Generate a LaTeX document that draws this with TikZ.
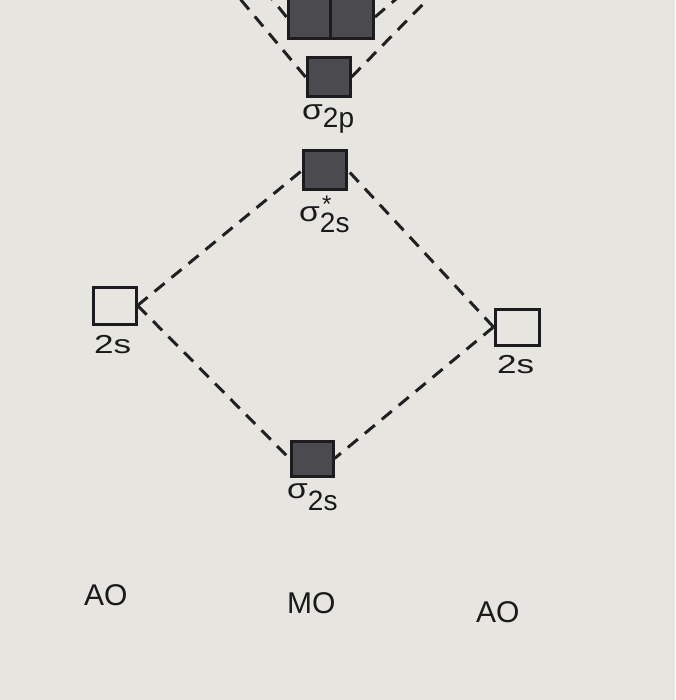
\documentclass[tikz,border=0pt]{standalone}
\usepackage{fontspec}
\setmainfont{Liberation Sans}
\newfontfamily\widefont[FakeStretch=1.35]{Liberation Sans}
\newfontfamily\sigfont[FakeStretch=1.2]{Liberation Sans}
\definecolor{bg}{HTML}{E7E5E0}
\definecolor{boxfill}{HTML}{4A4A4F}
\definecolor{boxedge}{HTML}{1C1C20}
\definecolor{lineclr}{HTML}{202022}
\definecolor{textclr}{HTML}{1A1A1C}
\newcommand{\sigmalbl}[2]{{\sigfont\fontsize{28}{32}\selectfont σ}\raisebox{-#1pt}{\fontsize{28}{32}\selectfont #2}}
\begin{document}
\begin{tikzpicture}[x=1pt,y=-1pt,
  mobox/.style={rectangle, draw=boxedge, fill=boxfill, line width=3pt, inner sep=0pt, minimum width=43pt, minimum height=39pt},
  aobox/.style={rectangle, draw=boxedge, fill=none, line width=3pt, inner sep=0pt, minimum width=43pt, minimum height=37pt},
  conn/.style={draw=lineclr, line width=3pt, dash pattern=on 13pt off 9pt},
  lbl/.style={text=textclr, inner sep=0pt, anchor=base west},
  twos/.style={lbl, font=\widefont\fontsize{26}{30}\selectfont},
  axlbl/.style={lbl, font=\fontsize{30}{34}\selectfont}]
\fill[bg] (0,0) rectangle (675,700);
\useasboundingbox (0,0) rectangle (675,700);
% coordinates outside the frame
\coordinate (tl1) at (268,-6);
\coordinate (tr1) at (402,-6);
\coordinate (tl2) at (236,-6);
\coordinate (tr2) at (433,-6);
% MO boxes
\node[mobox, minimum height=44pt] (piL) at (309.5,17) {};
\node[mobox, minimum height=44pt] (piR) at (352,17) {};
\node[mobox] (s2p) at (328.5,77) {};
\node[mobox] (ss2s) at (325,170.5) {};
\node[mobox, minimum width=42pt, minimum height=35pt] (s2s) at (312,458.5) {};
% AO boxes
\node[aobox] (L2s) at (114.5,305.5) {};
\node[aobox, minimum width=44pt, minimum height=36pt] (R2s) at (517,327) {};
% connectors
\draw[conn] (piL.west) -- (tl1);
\draw[conn] (piR.east) -- (tr1);
\draw[conn] (s2p.west) -- (tl2);
\draw[conn] (s2p.east) -- (tr2);
\draw[conn] (L2s.east) -- (ss2s.west);
\draw[conn] (L2s.east) -- (s2s.west);
\draw[conn] (R2s.west) -- (ss2s.east);
\draw[conn] (R2s.west) -- (s2s.east);
% labels
\node[lbl] (ls2p) at (302,120) {\sigmalbl{8}{2p}};
\node[lbl] (lss2s) at (299,222) {\sigmalbl{11}{2s}};
\node[lbl, font=\fontsize{24}{24}\selectfont] (ast) at (322,213) {*};
\node[lbl] (ls2s) at (287,498) {\sigmalbl{12}{2s}};
\node[twos] (lL2s) at (94,353) {2s};
\node[twos] (lR2s) at (497,373) {2s};
\node[axlbl] (aoL) at (84,605) {AO};
\node[axlbl] (mo) at (287,613) {MO};
\node[axlbl] (aoR) at (476,622) {AO};
\end{tikzpicture}
\end{document}
